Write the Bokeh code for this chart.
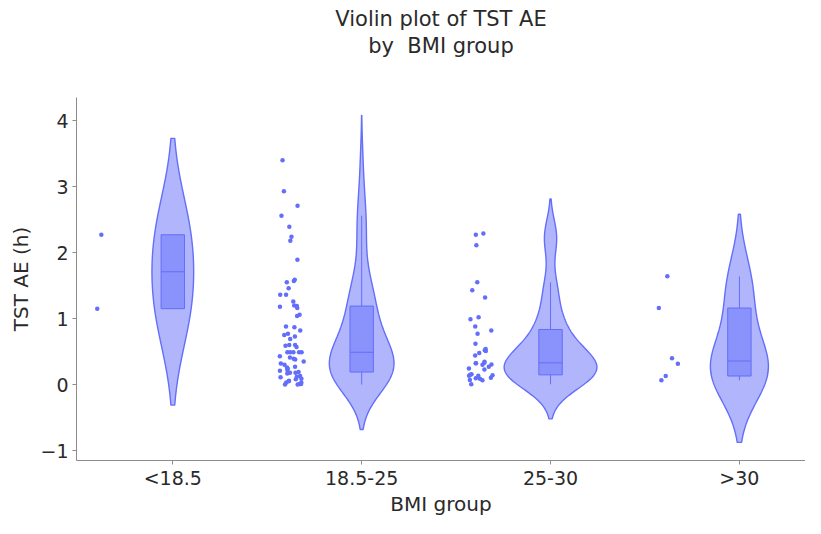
import numpy as np
from bokeh.plotting import figure
from bokeh.models import Range1d, FixedTicker, Title, ColumnDataSource
from bokeh.transform import jitter
from bokeh.embed import file_html
from bokeh.resources import INLINE

# ---------------- data ----------------
categories = ["<18.5", "18.5-25", "25-30", ">30"]

tst_lt185 = [2.27, 1.15]

tst_185_25 = [3.40, 2.93, 2.71, 2.56, 2.39, 2.24, 2.18, 1.89,
              1.55, 1.57, 1.59, 1.46, 1.36, 1.36, 1.26,
              1.20, 1.18, 1.19, 1.16, 1.04, 1.06, 0.88, 0.87,
              0.82, 0.75, 0.73, 0.77, 0.69, 0.60, 0.60, 0.59, 0.57,
              0.49, 0.49, 0.49, 0.49, 0.49, 0.43, 0.39, 0.41,
              0.38, 0.35, 0.32, 0.26, 0.27, 0.30, 0.24, 0.22, 0.21,
              0.18, 0.19, 0.17, 0.11, 0.12, 0.18, 0.13,
              0.08, 0.06, 0.09, 0.05, 0.00, 0.01, 0.01, 0.00, 0.03, 0.03]

tst_25_30 = [2.29, 2.27, 2.11, 1.55, 1.43, 1.32, 1.02, 0.99, 0.88,
             0.82, 0.77, 0.62, 0.52, 0.54, 0.51, 0.48, 0.44,
             0.325, 0.325, 0.33, 0.30, 0.345, 0.245, 0.305, 0.27, 0.23,
             0.135, 0.155, 0.15, 0.14, 0.135, 0.105, 0.09, 0.095,
             0.065, 0.07, 0.005]

tst_gt30 = [1.64, 1.16, 0.40, 0.315, 0.13, 0.065]

y_ticks = [-1, 0, 1, 2, 3, 4]

groups = [tst_lt185, tst_185_25, tst_25_30, tst_gt30]

# ---------------- styles ----------------
COLOR = "#636efa"
FONT = "DejaVu Sans"
TEXT = "#2a2a2a"
AXIS = "#8c8c8c"
VIOLIN_HALF_MAX = 0.2456
BOX_HALF = 0.062
POINT_OFFSET = -0.37
JITTER_W = 0.127


def stats(v):
    a = np.sort(np.asarray(v, dtype=float))
    q1, med, q3 = np.percentile(a, [25, 50, 75], method="hazen")
    iqr = q3 - q1
    lo_f, hi_f = q1 - 1.5 * iqr, q3 + 1.5 * iqr
    lo_w = a[a >= lo_f].min()
    hi_w = a[a <= hi_f].max()
    n = len(a)
    ssd = a.std(ddof=1)
    bw = 1.059 * min(ssd, iqr / 1.349) * n ** -0.2
    t = np.linspace(a.min() - 2 * bw, a.max() + 2 * bw, 300)
    z = (t[:, None] - a[None, :]) / bw
    dens = np.exp(-0.5 * z ** 2).sum(axis=1) / (np.sqrt(2 * np.pi) * n * bw)
    return dict(q1=q1, med=med, q3=q3, lo=lo_w, hi=hi_w, t=t, d=dens)


all_stats = [stats(g) for g in groups]
max_d = max(s["d"].max() for s in all_stats)
scale = VIOLIN_HALF_MAX / max_d

p = figure(width=805, height=518, output_backend="svg", toolbar_location=None,
           x_range=Range1d(-0.51, 3.35), y_range=Range1d(-1.15, 4.35),
           title=None, min_border_left=76, min_border_right=0,
           min_border_bottom=0, min_border_top=0)

for i, s in enumerate(all_stats):
    c = i
    xs = np.concatenate([c - s["d"] * scale, (c + s["d"] * scale)[::-1]])
    ys = np.concatenate([s["t"], s["t"][::-1]])
    p.patch(xs, ys, fill_color=COLOR, fill_alpha=0.5, line_color=COLOR, line_width=1.4)

box_src = ColumnDataSource(dict(
    left=[i - BOX_HALF for i in range(len(groups))],
    right=[i + BOX_HALF for i in range(len(groups))],
    q1=[s["q1"] for s in all_stats], q3=[s["q3"] for s in all_stats],
    med=[s["med"] for s in all_stats],
    lo=[s["lo"] for s in all_stats], hi=[s["hi"] for s in all_stats],
    xc=list(range(len(groups))),
))
p.segment(x0="xc", x1="xc", y0="q3", y1="hi", source=box_src, line_color=COLOR, line_width=1)
p.segment(x0="xc", x1="xc", y0="q1", y1="lo", source=box_src, line_color=COLOR, line_width=1)
p.quad(left="left", right="right", bottom="q1", top="q3", source=box_src,
       fill_color=COLOR, fill_alpha=0.5, line_color=COLOR, line_width=1)
p.segment(x0="left", x1="right", y0="med", y1="med", source=box_src, line_color=COLOR, line_width=1)

px, py = [], []
for i, g in enumerate(groups):
    px += [i + POINT_OFFSET] * len(g)
    py += list(g)
pt_src = ColumnDataSource(dict(x=px, y=py))
p.scatter(x=jitter("x", width=JITTER_W, distribution="uniform"), y="y", source=pt_src,
          size=4.5, fill_color=COLOR, line_color=COLOR, line_width=0)

# axes
p.xaxis.ticker = FixedTicker(ticks=list(range(len(categories))))
p.xaxis.major_label_overrides = {i: c for i, c in enumerate(categories)}
p.yaxis.ticker = FixedTicker(ticks=y_ticks)
p.yaxis.major_label_overrides = {t: (("\u2212" + str(-t)) if t < 0 else str(t)) for t in y_ticks}
p.xaxis.axis_label = "BMI group"
p.yaxis.axis_label = "TST AE (h)"
for ax in (p.xaxis[0], p.yaxis[0]):
    ax.axis_line_color = AXIS
    ax.major_tick_line_color = AXIS
    ax.minor_tick_line_color = None
    ax.major_tick_out = 4
    ax.major_tick_in = 0
    ax.major_label_text_font = FONT
    ax.major_label_text_font_size = "19px"
    ax.major_label_text_color = TEXT
    ax.axis_label_text_font = FONT
    ax.axis_label_text_font_size = "20px"
    ax.axis_label_text_font_style = "normal"
    ax.axis_label_text_color = TEXT
p.xaxis.major_label_standoff = 2
p.xaxis.axis_label_standoff = 0
p.yaxis.major_label_standoff = 4
p.yaxis.axis_label_standoff = 4
p.xgrid.visible = False
p.ygrid.visible = False
p.outline_line_color = None

p.add_layout(Title(text=" ", align="center", text_font=FONT,
                   text_font_size="20px", standoff=17), "above")
p.add_layout(Title(text="by \u00a0BMI group", align="center", text_font=FONT,
                   text_font_size="21px", text_font_style="normal", text_color=TEXT,
                   standoff=-7), "above")
p.add_layout(Title(text="Violin plot of TST AE", align="center", text_font=FONT,
                   text_font_size="21px", text_font_style="normal", text_color=TEXT,
                   standoff=9), "above")

open("out.html", "w").write(file_html(p, INLINE))
